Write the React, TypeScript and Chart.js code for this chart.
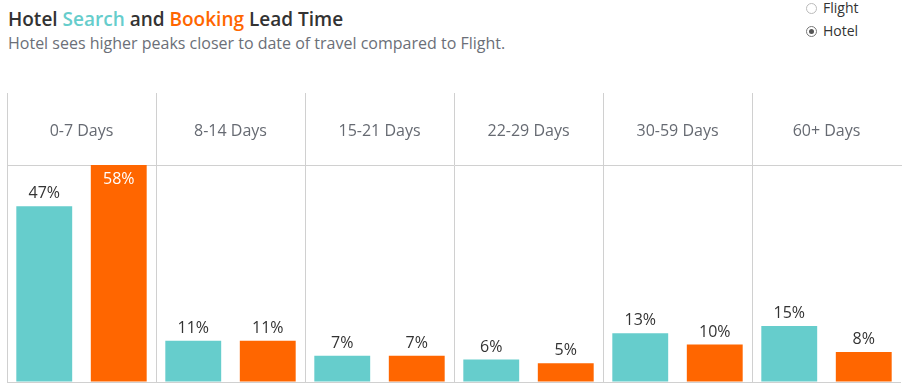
import React, { useEffect, useRef } from "react";
import { Chart, registerables } from "chart.js";

Chart.register(...registerables);

const categories = ["0-7 Days", "8-14 Days", "15-21 Days", "22-29 Days", "30-59 Days", "60+ Days"];
const searchValues = [47, 11, 7, 6, 13, 15];
const bookingValues = [58, 11, 7, 5, 10, 8];
const seriesNames = ["Search", "Booking"];
const legendOptions = ["Flight", "Hotel"];
const selectedOption = "Hotel";

const TEAL = "#66CDCC";
const ORANGE = "#FF6600";
const LINE = "#d0d0d0";
const FONT = "'Open Sans', 'Noto Sans', sans-serif";

const labelPlugin = {
  id: "barLabels",
  afterDatasetsDraw(chart: any) {
    const ctx = chart.ctx;
    const area = chart.chartArea;
    ctx.save();
    ctx.font = `16px ${FONT}`;
    ctx.textAlign = "center";
    ctx.textBaseline = "alphabetic";
    chart.data.datasets.forEach((ds: any, di: number) => {
      const meta = chart.getDatasetMeta(di);
      meta.data.forEach((bar: any, i: number) => {
        const text = ds.data[i] + "%";
        if (bar.y - 24 < area.top) {
          ctx.fillStyle = "#ffffff";
          ctx.fillText(text, bar.x, bar.y + 19);
        } else {
          ctx.fillStyle = "#333333";
          ctx.fillText(text, bar.x, bar.y - 8);
        }
      });
    });
    ctx.restore();
  },
};

function Radio({ label, selected, top }: { label: string; selected: boolean; top: number }) {
  return (
    <div style={{ position: "absolute", left: 806, top, height: 14, display: "flex", alignItems: "center" }}>
      <span
        style={{
          width: 11,
          height: 11,
          borderRadius: "50%",
          border: `1px solid ${selected ? "#777" : "#bbb"}`,
          boxSizing: "border-box",
          display: "inline-flex",
          alignItems: "center",
          justifyContent: "center",
          background: "#fff",
        }}
      >
        {selected ? <span style={{ width: 5, height: 5, borderRadius: "50%", background: "#555" }} /> : null}
      </span>
      <span style={{ marginLeft: 6, font: `14px ${FONT}`, color: "#333", lineHeight: "14px" }}>{label}</span>
    </div>
  );
}

export default function App() {
  const canvasRef = useRef<HTMLCanvasElement | null>(null);

  useEffect(() => {
    if (!canvasRef.current) return;
    const chart = new Chart(canvasRef.current, {
      type: "bar",
      data: {
        labels: categories,
        datasets: [
          {
            label: seriesNames[0],
            data: searchValues,
            backgroundColor: TEAL,
            barPercentage: 0.75,
            categoryPercentage: 1,
          },
          {
            label: seriesNames[1],
            data: bookingValues,
            backgroundColor: ORANGE,
            barPercentage: 0.75,
            categoryPercentage: 1,
          },
        ],
      },
      options: {
        animation: false,
        responsive: false,
        maintainAspectRatio: false,
        layout: { padding: { top: 93, left: 7, right: 2, bottom: 5 } },
        plugins: {
          legend: { display: false },
          tooltip: { enabled: false },
          title: { display: false },
        },
        scales: {
          x: {
            position: "top",
            offset: true,
            grid: {
              offset: true,
              color: (ctx: any) => (ctx.type === "tick" ? LINE : "transparent"),
              tickLength: 72,
              drawTicks: true,
              drawOnChartArea: true,
            },
            border: { display: true, color: LINE },
            ticks: {
              padding: -48,
              color: "#666a72",
              font: { size: 16, family: FONT },
              maxRotation: 0,
              autoSkip: false,
            },
            afterFit: (s: any) => {
              s.height = 72;
            },
          },
          y: {
            min: 0,
            max: 58,
            display: true,
            ticks: { display: false },
            border: { display: false },
            grid: {
              drawTicks: false,
              color: (ctx: any) => (ctx.tick && ctx.tick.value === 0 ? LINE : "transparent"),
            },
            afterFit: (s: any) => {
              s.width = 0;
            },
          },
        },
      },
      plugins: [labelPlugin],
    });
    return () => chart.destroy();
  }, []);

  return (
    <div style={{ position: "fixed", left: 0, top: 0, width: 903, height: 387, background: "#fff", overflow: "hidden" }}>
      <div
        style={{
          position: "absolute",
          left: 8,
          top: 9,
          font: `600 19px ${FONT}`,
          lineHeight: "20px",
          color: "#333",
          whiteSpace: "nowrap",
        }}
      >
        Hotel <span style={{ color: TEAL }}>Search</span> and <span style={{ color: ORANGE }}>Booking</span> Lead Time
      </div>
      <div
        style={{
          position: "absolute",
          left: 8,
          top: 33,
          font: `16px ${FONT}`,
          lineHeight: "20px",
          color: "#6b6f78",
          whiteSpace: "nowrap",
        }}
      >
        Hotel sees higher peaks closer to date of travel compared to Flight.
      </div>
      {legendOptions.map((o, i) => (
        <Radio key={o} label={o} selected={o === selectedOption} top={1 + i * 23} />
      ))}
      <canvas ref={canvasRef} width={903} height={387} style={{ position: "absolute", left: 0, top: 0 }} />
    </div>
  );
}
